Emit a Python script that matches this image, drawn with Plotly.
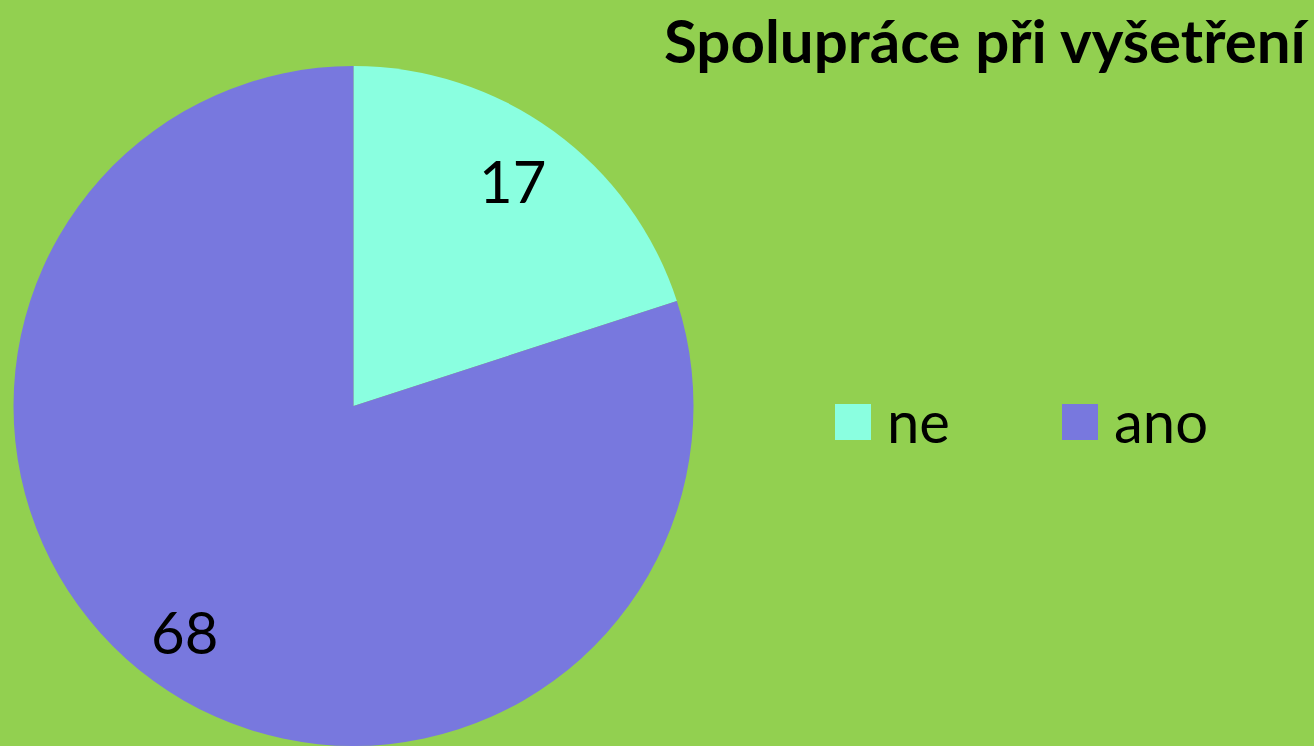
import math
import plotly.graph_objects as go

labels = ["ne", "ano"]
values = [17, 68]
colors = ["#8AFFE0", "#7878DE"]
title = "Spolupráce při vyšetření"

W, H = 1314, 746
BG = "#92D050"

# pie geometry (pixels)
CX, CY, R = 353.5, 406.0, 340.0

fig = go.Figure()
fig.add_trace(go.Pie(
    labels=labels, values=values, sort=False, direction="clockwise", rotation=0,
    marker=dict(colors=colors, line=dict(width=0)),
    textinfo="none",
    domain=dict(x=[(CX - R) / W, (CX + R) / W], y=[0, 1 - (CY - R) / H]),
    showlegend=False, hoverinfo="label+value",
))

annotations = [dict(text="<b>%s</b>" % title, x=1312 / W, y=1 - 40 / H, xref="paper", yref="paper",
                    xanchor="right", yanchor="middle", showarrow=False,
                    font=dict(family="Lato", size=60, color="black"))]

# value labels placed near the outer part of each slice, at its mid angle
total = sum(values)
cum = 0
for v in values:
    mid = (cum + v / 2) / total * 2 * math.pi
    cum += v
    px = CX + 0.82 * R * math.sin(mid) - 5
    py = CY - 0.82 * R * math.cos(mid)
    annotations.append(dict(text=str(v), x=px / W, y=1 - py / H, xref="paper", yref="paper",
                            xanchor="center", yanchor="middle", showarrow=False,
                            font=dict(family="Lato", size=58, color="black")))

shapes = []
sq_x = [835, 1062]
for i, lab in enumerate(labels):
    x0 = sq_x[i]
    shapes.append(dict(type="rect", xref="paper", yref="paper",
                       x0=x0 / W, x1=(x0 + 36) / W, y0=1 - 440 / H, y1=1 - 404 / H,
                       fillcolor=colors[i], line=dict(width=0)))
    annotations.append(dict(text=lab, x=(x0 + 50) / W, y=1 - 420 / H, xref="paper", yref="paper",
                            xanchor="left", yanchor="middle", showarrow=False,
                            font=dict(family="Lato", size=58, color="black")))

fig.update_layout(width=W, height=H, margin=dict(l=0, r=0, t=0, b=0),
                  paper_bgcolor=BG, plot_bgcolor=BG,
                  annotations=annotations, shapes=shapes)
fig.write_html("out.html", config={"displayModeBar": False},
               post_script="document.body.style.margin='0';document.body.style.overflow='hidden';document.body.style.background='%s';" % BG)
